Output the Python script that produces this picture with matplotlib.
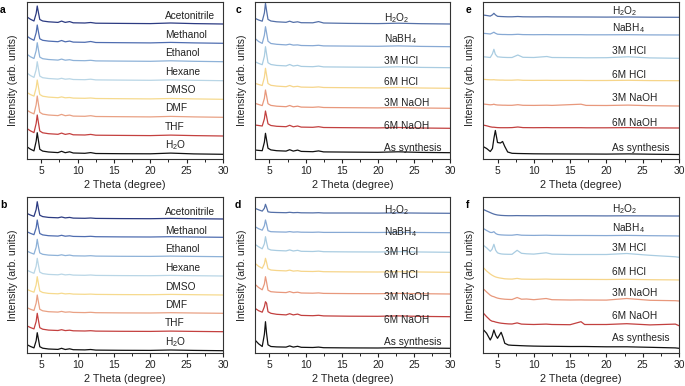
import matplotlib
matplotlib.use("Agg")
import matplotlib.pyplot as plt
from matplotlib.ticker import MultipleLocator

plt.rcParams['font.family'] = ['Liberation Sans', 'DejaVu Sans']
plt.rcParams['mathtext.default'] = 'regular'

# x grids (2 Theta, degree)
x_ad = [3.0, 3.5, 4.0, 4.3, 4.45, 4.6, 4.8, 5.2, 6.0, 7.3, 7.8, 8.3, 8.9, 9.4,
        11.0, 11.8, 12.5, 16.0, 20.0, 22.8, 26.0, 30.0]
x_e = [3.0, 3.5, 4.0, 4.3, 4.5, 4.7, 5.0, 5.4, 5.7, 6.0, 6.4, 7.0, 7.8, 8.5,
       10.0, 11.8, 12.5, 16.5, 17.2, 20.0, 23.0, 26.0, 30.0]
x_f = [3.0, 3.5, 4.0, 4.25, 4.5, 4.75, 5.0, 5.25, 5.5, 5.75, 6.0, 6.5, 7.0, 7.7,
       8.3, 9.0, 10.0, 11.7, 12.5, 15.0, 16.5, 17.0, 20.0, 22.8, 26.0, 29.5, 30.0]

# labels
solvents = ['Acetonitrile', 'Methanol', 'Ethanol', 'Hexane', 'DMSO', 'DMF', 'THF', 'H$_2$O']
treatments = ['H$_2$O$_2$', 'NaBH$_4$', '3M HCl', '6M HCl', '3M NaOH', '6M NaOH', 'As synthesis']

solvent_colors = ['#2c3b82', '#4f6db0', '#8eb2d8', '#b9d6e6', '#f6da8e', '#e9a184', '#c4403f', '#111111']
treat_colors = ['#5470a8', '#87a9d4', '#a9cce1', '#f6d58a', '#e8987c', '#c2403f', '#111111']

# panel a (intensity above own baseline, arb. units)
a_curves = [
    [7.3, 4.8, 3.0, 10.5, 18.0, 12.0, 4.5, 3.0, 2.2, 1.6, 2.9, 1.6, 2.4, 1.2, 1.0, 1.5, 0.8, 0.6, 0.4, 1.0, 0.4, 0.0],
    [7.3, 4.8, 3.0, 10.5, 18.3, 12.0, 4.5, 3.0, 2.2, 1.6, 2.8, 1.5, 2.2, 1.2, 1.0, 1.8, 0.8, 0.6, 0.4, 0.9, 0.4, 0.0],
    [7.7, 5.0, 3.2, 11.0, 19.0, 12.5, 4.6, 3.0, 2.2, 1.6, 2.6, 1.5, 2.0, 1.2, 1.0, 1.4, 0.8, 0.6, 0.4, 0.9, 0.4, 0.0],
    [8.0, 5.2, 3.3, 11.0, 19.0, 12.5, 4.6, 3.0, 2.2, 1.6, 2.4, 1.5, 1.9, 1.2, 1.0, 1.5, 0.8, 0.6, 0.4, 0.8, 0.4, 0.0],
    [7.0, 4.8, 3.2, 11.5, 19.3, 13.0, 4.8, 3.1, 2.2, 1.6, 2.4, 1.5, 1.8, 1.2, 1.0, 1.3, 0.8, 0.6, 0.4, 0.8, 0.4, 0.0],
    [7.3, 5.0, 3.4, 12.5, 21.3, 14.0, 5.0, 3.2, 2.3, 1.7, 2.9, 1.6, 2.2, 1.2, 1.0, 1.6, 0.8, 0.6, 0.4, 0.9, 0.4, 0.0],
    [7.7, 5.2, 3.4, 12.5, 21.0, 14.0, 5.0, 3.2, 2.3, 1.7, 2.9, 1.6, 2.4, 1.2, 1.0, 1.6, 0.8, 0.6, 0.4, 0.9, 0.4, 0.0],
    [7.7, 5.2, 3.4, 13.0, 21.6, 14.5, 5.0, 3.2, 2.3, 1.7, 3.0, 1.6, 2.5, 1.3, 1.0, 1.7, 0.8, 0.6, 0.5, 1.2, 0.4, 0.0],
]
a_base = [135.0, 115.7, 97.3, 78.3, 59.7, 41.7, 23.0, 4.7]
a_label_y = [143.3, 124.3, 106.3, 87.3, 69.0, 50.7, 32.3, 14.0]

b_curves = [
    [5.7, 4.0, 2.6, 9.5, 17.3, 11.0, 3.8, 2.4, 1.6, 1.2, 2.0, 1.1, 1.6, 0.9, 0.7, 1.0, 0.6, 0.4, 0.3, 0.6, 0.3, 0.0],
    [5.7, 4.0, 2.6, 9.5, 17.3, 11.0, 3.8, 2.4, 1.6, 1.2, 2.0, 1.1, 1.5, 0.9, 0.7, 1.0, 0.6, 0.4, 0.3, 0.6, 0.3, 0.0],
    [5.8, 4.0, 2.6, 9.5, 17.4, 11.0, 3.8, 2.4, 1.6, 1.2, 1.9, 1.1, 1.6, 0.9, 0.7, 1.0, 0.6, 0.4, 0.3, 0.6, 0.3, 0.0],
    [6.0, 4.2, 2.7, 9.8, 17.7, 11.5, 3.9, 2.4, 1.6, 1.2, 1.9, 1.1, 1.5, 0.9, 0.7, 1.0, 0.6, 0.4, 0.3, 0.6, 0.3, 0.0],
    [5.8, 4.1, 2.8, 10.2, 18.3, 12.0, 4.0, 2.5, 1.6, 1.2, 1.8, 1.1, 1.4, 0.9, 0.7, 0.9, 0.6, 0.4, 0.3, 0.6, 0.3, 0.0],
    [5.8, 4.1, 2.8, 10.2, 18.3, 12.0, 4.0, 2.5, 1.6, 1.2, 1.9, 1.1, 1.4, 0.9, 0.7, 1.0, 0.6, 0.4, 0.3, 0.6, 0.3, 0.0],
    [6.0, 4.2, 2.8, 10.2, 18.4, 12.0, 4.0, 2.5, 1.6, 1.2, 2.0, 1.1, 1.5, 0.9, 0.7, 1.0, 0.6, 0.4, 0.3, 0.6, 0.3, 0.0],
    [6.2, 4.3, 2.8, 10.0, 18.0, 12.0, 4.0, 2.5, 1.7, 1.3, 2.4, 1.2, 1.9, 1.0, 0.8, 1.2, 0.6, 0.4, 0.3, 0.7, 0.3, 0.0],
]
b_base = [134.0, 115.7, 96.3, 77.0, 58.0, 39.7, 21.3, 2.3]
b_label_y = [141.3, 122.0, 103.7, 85.0, 66.3, 47.7, 29.7, 10.7]

c_curves = [
    [5.7, 4.0, 2.8, 11.0, 20.7, 13.5, 4.6, 3.0, 2.2, 1.7, 2.8, 1.6, 2.2, 1.3, 1.2, 2.4, 1.0, 0.6, 0.4, 0.8, 0.3, 0.0],
    [8.3, 5.2, 3.3, 11.5, 20.0, 14.0, 5.5, 3.2, 2.4, 1.8, 2.5, 1.6, 1.8, 1.2, 1.0, 1.4, 0.8, 0.6, 0.4, 0.8, 0.3, 0.0],
    [6.0, 4.3, 3.0, 11.5, 21.0, 14.0, 5.0, 3.2, 2.3, 1.8, 3.2, 1.7, 2.4, 1.3, 1.0, 1.6, 0.8, 0.6, 0.4, 0.9, 0.3, 0.0],
    [5.0, 3.8, 2.8, 11.0, 20.0, 13.5, 4.8, 3.0, 2.2, 1.6, 2.8, 1.5, 2.0, 1.2, 1.0, 1.4, 0.8, 0.6, 0.4, 0.8, 0.3, 0.0],
    [5.0, 3.8, 2.7, 10.0, 18.3, 12.5, 4.6, 2.9, 2.1, 1.6, 2.8, 1.5, 2.1, 1.2, 1.0, 1.4, 0.8, 0.6, 0.4, 0.8, 0.3, 0.0],
    [3.3, 2.8, 2.3, 9.5, 17.3, 12.0, 4.5, 2.8, 2.0, 1.6, 3.0, 1.5, 2.3, 1.2, 1.0, 1.6, 0.8, 0.6, 0.4, 0.8, 0.3, 0.0],
    [2.7, 2.3, 2.0, 10.5, 19.4, 13.0, 4.5, 2.8, 2.0, 1.6, 3.0, 1.6, 2.6, 1.3, 1.0, 1.8, 0.8, 0.6, 0.4, 0.9, 0.3, 0.0],
]
c_base = [135.0, 112.3, 91.3, 70.7, 50.7, 30.7, 6.3]
c_label_y = [140.7, 119.7, 98.0, 77.3, 55.7, 33.0, 11.3]

d_curves = [
    [5.0, 3.5, 2.2, 5.0, 9.0, 6.0, 1.5, 1.0, 0.8, 0.6, 1.0, 0.6, 0.8, 0.5, 0.4, 0.6, 0.3, 0.3, 0.2, 0.4, 0.2, 0.0],
    [6.0, 4.0, 2.5, 7.0, 12.7, 8.5, 2.0, 1.0, 0.8, 0.6, 1.1, 0.6, 0.8, 0.5, 0.4, 0.6, 0.3, 0.3, 0.2, 0.4, 0.2, 0.0],
    [8.0, 5.5, 3.5, 8.5, 15.6, 10.0, 3.5, 2.3, 1.8, 1.4, 2.4, 1.3, 2.0, 1.0, 0.8, 1.2, 0.6, 0.4, 0.3, 0.7, 0.3, 0.0],
    [9.0, 6.0, 4.0, 8.5, 14.0, 10.0, 3.6, 2.3, 1.8, 1.4, 2.2, 1.2, 1.6, 1.0, 0.8, 1.1, 0.6, 0.4, 0.3, 0.6, 0.3, 0.0],
    [9.7, 6.5, 4.2, 10.0, 17.3, 12.0, 3.8, 2.3, 1.8, 1.4, 2.4, 1.3, 1.8, 1.0, 0.8, 1.1, 0.6, 0.4, 0.3, 0.6, 0.3, 0.0],
    [8.4, 6.0, 4.5, 10.0, 15.0, 13.5, 5.0, 3.4, 2.4, 1.8, 3.0, 1.8, 2.6, 1.3, 1.0, 1.4, 0.8, 0.5, 0.4, 0.8, 0.3, 0.0],
    [8.3, 4.5, 1.8, 14.0, 26.6, 15.0, 3.5, 1.8, 1.4, 1.2, 2.4, 1.2, 2.0, 1.0, 0.8, 1.2, 0.6, 0.4, 0.3, 0.6, 0.3, 0.0],
]
d_base = [139.7, 120.3, 100.7, 80.7, 59.0, 36.3, 4.7]
d_label_y = [143.0, 121.0, 101.0, 78.0, 56.0, 33.0, 11.0]

e_curves = [
    [2.3, 1.8, 1.2, 2.5, 4.0, 2.5, 1.0, 0.8, 0.7, 0.6, 0.5, 0.5, 0.8, 0.5, 0.4, 0.5, 0.4, 0.3, 0.3, 0.2, 0.3, 0.1, 0.0],
    [1.7, 1.4, 1.0, 2.0, 2.8, 1.8, 0.8, 0.6, 0.5, 0.5, 0.4, 0.4, 0.7, 0.4, 0.3, 0.4, 0.3, 0.3, 0.2, 0.2, 0.3, 0.1, 0.0],
    [1.6, 1.2, 0.8, 4.5, 9.0, 4.0, 1.5, 1.2, 1.0, 0.9, 0.8, 0.8, 3.3, 1.0, 0.8, 1.8, 0.8, 0.6, 0.5, 0.6, 1.5, 0.4, 0.0],
    [1.4, 1.1, 0.9, 0.9, 1.0, 0.8, 0.7, 0.6, 0.6, 0.5, 0.5, 0.5, 0.8, 0.4, 0.3, 0.4, 0.3, 0.3, 0.2, 0.2, 0.4, 0.1, 0.0],
    [2.0, 1.6, 1.2, 1.4, 1.8, 1.3, 1.0, 0.9, 0.8, 0.8, 0.7, 0.7, 1.3, 0.7, 0.6, 0.8, 0.6, 1.8, 0.6, 0.5, 0.9, 0.3, 0.0],
    [3.0, 2.2, 1.2, 0.8, 0.8, 0.6, 0.4, 0.3, 0.3, 0.3, 0.3, 0.4, 1.0, 0.4, 0.3, 0.4, 0.3, 0.3, 0.2, 0.2, 0.4, 0.1, 0.0],
    [8.0, 6.0, 3.0, 6.0, 16.0, 24.0, 12.0, 11.5, 13.0, 8.0, 2.5, 1.2, 1.0, 0.9, 0.7, 0.6, 0.6, 0.5, 0.5, 0.4, 0.6, 0.3, 0.0],
]
e_base = [141.7, 124.0, 100.7, 78.3, 53.0, 31.0, 4.5]
e_label_y = [148.3, 130.7, 108.3, 84.0, 60.7, 35.7, 10.7]

f_curves = [
    [6.7, 5.0, 3.4, 2.6, 1.9, 1.4, 1.0, 0.8, 0.6, 0.5, 0.4, 0.3, 0.3, 0.4, 0.3, 0.3, 0.2, 0.3, 0.2, 0.2, 0.2, 0.2, 0.1, 0.2, 0.1, 0.0, 0.0],
    [7.7, 5.5, 3.6, 3.5, 4.3, 2.5, 1.6, 1.3, 1.1, 1.0, 0.9, 0.8, 0.8, 1.4, 0.8, 0.7, 0.6, 0.8, 0.6, 0.5, 0.5, 0.5, 0.4, 0.6, 0.3, 0.1, 0.0],
    [12.3, 9.5, 6.0, 8.0, 13.0, 7.0, 4.5, 3.8, 3.4, 3.2, 3.1, 3.0, 3.0, 7.0, 4.0, 3.5, 3.2, 4.5, 3.2, 2.8, 2.8, 2.8, 2.8, 3.8, 2.0, 0.5, 0.0],
    [12.7, 9.0, 6.0, 4.8, 3.8, 3.0, 2.5, 2.1, 1.8, 1.5, 1.2, 1.0, 0.9, 1.6, 0.9, 0.8, 0.7, 0.9, 0.7, 0.6, 0.6, 0.6, 0.5, 0.7, 0.3, 0.1, 0.0],
    [13.0, 9.5, 6.3, 5.3, 4.8, 4.0, 3.4, 3.0, 2.7, 2.5, 2.3, 2.1, 2.0, 4.0, 2.3, 2.5, 1.8, 3.0, 1.8, 1.5, 1.6, 1.5, 1.4, 3.0, 1.2, 0.8, 0.5],
    [14.0, 10.0, 6.5, 5.5, 5.2, 4.6, 4.2, 3.8, 3.5, 3.3, 3.1, 2.8, 2.7, 3.8, 2.6, 2.4, 2.2, 2.6, 2.2, 2.0, 5.0, 2.2, 2.2, 3.0, 1.8, 2.6, 1.0],
    [19.0, 15.0, 8.3, 12.0, 18.3, 13.0, 10.0, 13.0, 16.0, 11.0, 5.0, 3.3, 3.0, 2.8, 2.6, 2.4, 2.2, 2.0, 2.0, 1.8, 1.8, 1.8, 1.5, 1.5, 1.0, 0.4, 0.0],
]
f_base = [137.0, 117.0, 95.7, 73.0, 51.5, 26.3, 4.7]
f_label_y = [143.7, 125.3, 105.3, 81.3, 60.3, 37.0, 15.3]

W, H = 685, 386
fig = plt.figure(figsize=(6.85, 3.86), dpi=100)


def panel(rect_px, letter, letter_px, xs, curves, bases, names, colors, label_ys, label_x, ytop):
    x0, y0, x1, y1 = rect_px
    ax = fig.add_axes([x0 / W, 1 - y1 / H, (x1 - x0) / W, (y1 - y0) / H])
    for ys, b, c in zip(curves, bases, colors):
        ax.plot(xs, [v + b for v in ys], color=c, lw=0.9)
    for name, ly in zip(names, label_ys):
        ax.text(label_x, ly, name, fontsize=7.3, va='center', ha='left', color='#222222')
    ax.set_xlim(3, 30)
    ax.set_ylim(0, ytop)
    ax.set_yticks([])
    ax.xaxis.set_major_locator(MultipleLocator(5))
    ax.xaxis.set_minor_locator(MultipleLocator(2.5))
    ax.tick_params(axis='x', which='major', direction='out', length=3, width=0.8,
                   pad=1.8, labelsize=7.5, colors='#222222')
    ax.tick_params(axis='x', which='minor', direction='out', length=1.8, width=0.6)
    for s in ax.spines.values():
        s.set_linewidth(0.8)
        s.set_color('#333333')
    ax.set_xlabel('2 Theta (degree)', fontsize=7.8, color='#222222')
    ax.xaxis.set_label_coords(0.5, -0.135)
    ax.set_ylabel('Intensity (arb. units)', fontsize=7.5, color='#222222')
    ax.yaxis.set_label_coords(-0.042, 0.5)
    fig.text(letter_px[0] / W, 1 - letter_px[1] / H, letter, fontsize=7.5,
             fontweight='bold', ha='center', va='center')
    return ax


panel((26.7, 2, 223, 159), 'a', (3, 10), x_ad, a_curves, a_base, solvents,
      solvent_colors, a_label_y, 22.0, 157)
panel((26.7, 197, 223, 353), 'b', (3, 205), x_ad, b_curves, b_base, solvents,
      solvent_colors, b_label_y, 22.0, 156)
panel((255, 2, 450, 159), 'c', (238, 10), x_ad, c_curves, c_base, treatments,
      treat_colors, c_label_y, 20.9, 157)
panel((255, 197, 450, 353), 'd', (238, 205), x_ad, d_curves, d_base, treatments,
      treat_colors, d_label_y, 20.9, 156)
panel((483, 2, 679, 159), 'e', (468, 10), x_e, e_curves, e_base, treatments,
      treat_colors, e_label_y, 20.8, 157)
panel((483, 197, 679, 353), 'f', (468, 205), x_f, f_curves, f_base, treatments,
      treat_colors, f_label_y, 20.8, 156)

fig.savefig('out.png', dpi=100)
